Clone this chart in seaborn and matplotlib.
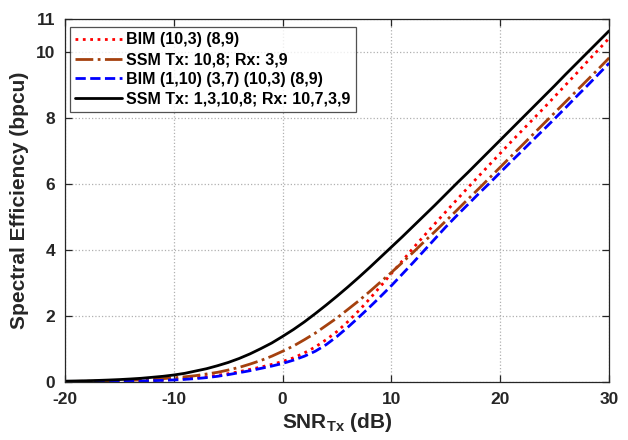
import matplotlib
matplotlib.use('Agg')
import matplotlib.pyplot as plt
import seaborn as sns
import pandas as pd

# SNR grid (dB) and spectral efficiency (bpcu)
snr_db = list(range(-20, 31))
bim_2 = [0.006, 0.008, 0.01, 0.013, 0.016, 0.021, 0.027, 0.035, 0.045, 0.058,
         0.075, 0.097, 0.125, 0.16, 0.2, 0.25, 0.31, 0.38, 0.45, 0.53,
         0.62, 0.73, 0.88, 1.06, 1.28, 1.53, 1.83, 2.16, 2.52, 2.9,
         3.29, 3.67, 4.06, 4.43, 4.8, 5.16, 5.52, 5.88, 6.23, 6.58,
         6.93, 7.28, 7.62, 7.96, 8.3, 8.65, 9.0, 9.35, 9.71, 10.06, 10.42]
ssm_2 = [0.013, 0.016, 0.02, 0.026, 0.032, 0.04, 0.051, 0.064, 0.08, 0.1,
         0.124, 0.155, 0.19, 0.24, 0.29, 0.36, 0.44, 0.54, 0.65, 0.78,
         0.93, 1.09, 1.28, 1.48, 1.71, 1.94, 2.2, 2.46, 2.74, 3.03,
         3.32, 3.62, 3.93, 4.25, 4.56, 4.88, 5.2, 5.53, 5.85, 6.18,
         6.51, 6.84, 7.17, 7.5, 7.83, 8.16, 8.49, 8.82, 9.15, 9.48, 9.82]
bim_4 = [0.005, 0.006, 0.008, 0.01, 0.013, 0.017, 0.022, 0.028, 0.037, 0.047,
         0.06, 0.077, 0.1, 0.13, 0.17, 0.22, 0.28, 0.34, 0.41, 0.48,
         0.56, 0.66, 0.78, 0.93, 1.13, 1.38, 1.66, 1.96, 2.27, 2.59,
         2.92, 3.27, 3.62, 3.98, 4.34, 4.7, 5.04, 5.37, 5.7, 6.02,
         6.35, 6.68, 7.0, 7.33, 7.65, 7.98, 8.31, 8.65, 8.98, 9.32, 9.66]
ssm_4 = [0.023, 0.029, 0.036, 0.045, 0.057, 0.071, 0.089, 0.11, 0.14, 0.17,
         0.21, 0.26, 0.33, 0.4, 0.49, 0.59, 0.71, 0.85, 1.01, 1.18,
         1.38, 1.59, 1.82, 2.07, 2.33, 2.6, 2.88, 3.17, 3.47, 3.78,
         4.09, 4.4, 4.72, 5.04, 5.36, 5.69, 6.02, 6.34, 6.67, 7.0,
         7.33, 7.66, 7.99, 8.32, 8.65, 8.98, 9.32, 9.65, 9.98, 10.31, 10.64]

labels = ['BIM (10,3) (8,9)', 'SSM Tx: 10,8; Rx: 3,9',
          'BIM (1,10) (3,7) (10,3) (8,9)', 'SSM Tx: 1,3,10,8; Rx: 10,7,3,9']
x_ticks = [-20, -10, 0, 10, 20, 30]
y_ticks = [0, 2, 4, 6, 8, 10, 11]

sns.set_theme(style='ticks')
plt.rcParams['font.family'] = ['Liberation Sans', 'DejaVu Sans']
plt.rcParams['font.weight'] = 'bold'
plt.rcParams['axes.unicode_minus'] = False
plt.rcParams['mathtext.fontset'] = 'custom'
plt.rcParams['mathtext.bf'] = 'Liberation Sans:bold'
plt.rcParams['mathtext.rm'] = 'Liberation Sans:bold'
txt = '#262626'

fig = plt.figure(figsize=(6.28, 4.4), dpi=100)
ax = fig.add_axes([0.1035, 0.132, 0.8665, 0.825])

series = [(bim_2, 'red', ':'), (ssm_2, '#A5410E', '-.'),
          (bim_4, 'blue', '--'), (ssm_4, 'black', '-')]
for (vals, col, ls), lab in zip(series, labels):
    df = pd.DataFrame({'snr': snr_db, 'se': vals})
    sns.lineplot(data=df, x='snr', y='se', color=col, linestyle=ls,
                 linewidth=2.0, label=lab, ax=ax)

ax.set_xlim(-20, 30)
ax.set_ylim(0, 11)
ax.set_xticks(x_ticks)
ax.set_yticks(y_ticks)
ax.grid(True, linestyle=':', color='#b0b0b0', linewidth=0.9)
ax.tick_params(direction='in', top=True, right=True, length=5, width=0.9,
               labelsize=12.5, colors=txt, pad=7)
for t in ax.get_xticklabels() + ax.get_yticklabels():
    t.set_fontweight('bold')
for s in ax.spines.values():
    s.set_color(txt)
    s.set_linewidth(0.9)

ax.set_xlabel(r'SNR$_{\mathbf{Tx}}$ (dB)', fontsize=15, fontweight='bold', color=txt, labelpad=3)
ax.set_ylabel('Spectral Efficiency (bpcu)', fontsize=15, fontweight='bold', color=txt, labelpad=5)

leg = ax.legend(loc='upper left', bbox_to_anchor=(0.009, 0.978), fontsize=11.5,
                handlelength=2.9, handletextpad=0.25, borderpad=0.35,
                labelspacing=0.3, frameon=True, fancybox=False, borderaxespad=0)
leg.get_frame().set_edgecolor(txt)
leg.get_frame().set_linewidth(0.9)
for t in leg.get_texts():
    t.set_fontweight('bold')
    t.set_color('black')

fig.savefig('out.png', dpi=100)
